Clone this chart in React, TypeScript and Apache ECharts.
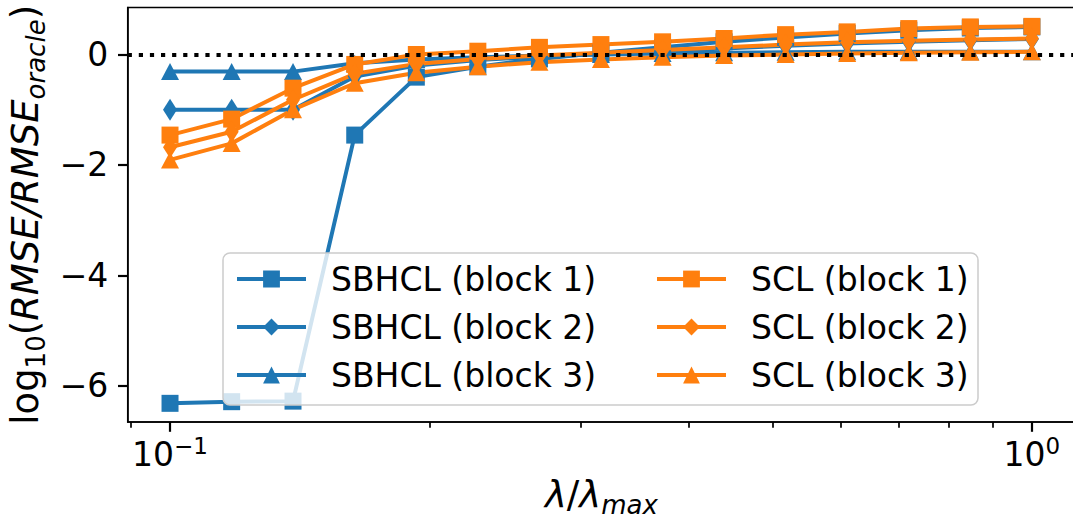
import React, { useEffect, useRef } from 'react';
import * as echarts from 'echarts';

// lambda / lambda_max values (log-spaced, 15 points)
const lambdaValues = [0.1, 0.1179, 0.1389, 0.1638, 0.1931, 0.2276, 0.2683, 0.3162, 0.3728, 0.4394, 0.5179, 0.6105, 0.7197, 0.8483, 1.0];

const sbhclBlock1 = [-6.32, -6.29, -6.28, -1.46, -0.41, -0.22, -0.08, 0.03, 0.13, 0.23, 0.31, 0.38, 0.44, 0.48, 0.5];
const sbhclBlock2 = [-1.0, -1.0, -1.0, -0.4, -0.2, -0.1, -0.04, 0.01, 0.06, 0.11, 0.16, 0.2, 0.23, 0.26, 0.28];
const sbhclBlock3 = [-0.31, -0.31, -0.31, -0.16, -0.09, -0.05, -0.02, 0.0, 0.02, 0.03, 0.04, 0.05, 0.05, 0.05, 0.05];
const sclBlock1 = [-1.46, -1.17, -0.61, -0.18, 0.0, 0.06, 0.13, 0.18, 0.23, 0.29, 0.36, 0.41, 0.47, 0.5, 0.51];
const sclBlock2 = [-1.68, -1.4, -0.82, -0.35, -0.17, -0.08, -0.02, 0.03, 0.08, 0.13, 0.18, 0.22, 0.25, 0.27, 0.29];
const sclBlock3 = [-1.91, -1.61, -1.0, -0.52, -0.33, -0.22, -0.14, -0.09, -0.05, -0.02, 0.0, 0.02, 0.03, 0.04, 0.05];

const seriesNames = ['SBHCL (block 1)', 'SBHCL (block 2)', 'SBHCL (block 3)', 'SCL (block 1)', 'SCL (block 2)', 'SCL (block 3)'];

// axis ticks
const xMajorTickLambdas = [0.1, 1];
const xMinorTickLambdas = [0.09, 0.2, 0.3, 0.4, 0.5, 0.6, 0.7, 0.8, 0.9];
const yTickValues = [-6, -4, -2, 0];
const xLimLog = [-1.0491, 0.05];
const yLim = [-6.66, 0.85];

const BLUE = '#1f77b4';
const ORANGE = '#ff7f0e';
const FONT = 'DejaVu Sans';

export default function App() {
  const ref = useRef<HTMLDivElement>(null);

  useEffect(() => {
    if (!ref.current) return;
    const chart = echarts.init(ref.current, null, { renderer: 'svg' });

    const allValues = [sbhclBlock1, sbhclBlock2, sbhclBlock3, sclBlock1, sclBlock2, sclBlock3];
    const symbols = ['rect', 'diamond', 'triangle', 'rect', 'diamond', 'triangle'];
    const sizes: any[] = [17, [14, 22], [18, 17], 17, [14, 22], [18, 17]];
    const colors = [BLUE, BLUE, BLUE, ORANGE, ORANGE, ORANGE];

    const series: any[] = allValues.map((vals, i) => ({
      name: seriesNames[i],
      type: 'line',
      data: vals.map((v, k) => [Math.log10(lambdaValues[k]), v]),
      symbol: symbols[i],
      symbolSize: sizes[i],
      showAllSymbol: true,
      color: colors[i],
      lineStyle: { width: 4, color: colors[i] },
      itemStyle: { color: colors[i] },
      z: 2,
      silent: true,
    }));

    series.push({
      name: 'zero',
      type: 'line',
      data: [],
      z: 3,
      silent: true,
      markLine: {
        silent: true,
        symbol: 'none',
        label: { show: false },
        lineStyle: { color: '#000', width: 4.2, type: [4.2, 6.9], cap: 'butt' },
        data: [{ yAxis: 0 }],
        animation: false,
      },
    });

    const legendCommon = {
      orient: 'vertical',
      padding: 0,
      itemWidth: 69,
      itemHeight: 21,
      itemGap: 15,
      selectedMode: false,
      lineStyle: { width: 4 },
      textStyle: { fontSize: 33, fontFamily: FONT, color: '#000', padding: [0, 0, 0, 20] },
      z: 5,
    };

    const option: any = {
      animation: false,
      textStyle: { fontFamily: FONT },
      grid: {
        left: 127.7,
        top: 7.6,
        width: 947.3,
        height: 414.5,
        show: true,
        borderColor: '#000',
        borderWidth: 1.5,
        backgroundColor: 'transparent',
        containLabel: false,
        outerBoundsMode: 'none',
      },
      xAxis: [
        {
          type: 'value',
          min: xLimLog[0],
          max: xLimLog[1],
          position: 'bottom',
          axisLine: { show: true, onZero: false, lineStyle: { color: '#000', width: 1.5 } },
          splitLine: { show: false },
          axisTick: {
            show: true,
            customValues: xMajorTickLambdas.map((l) => Math.log10(l)),
            length: 9.7,
            lineStyle: { color: '#000', width: 2.2 },
          },
          axisLabel: {
            show: true,
            customValues: xMajorTickLambdas.map((l) => Math.log10(l)),
            margin: 16,
            formatter: (v: number) => '{b|10}{s|' + (Math.round(v) < 0 ? '−' + Math.abs(Math.round(v)) : String(Math.round(v))) + '}',
            rich: {
              b: { fontSize: 33, fontFamily: FONT, color: '#000', verticalAlign: 'bottom', lineHeight: 33 },
              s: { fontSize: 23, fontFamily: FONT, color: '#000', verticalAlign: 'bottom', lineHeight: 23, padding: [0, 0, 14, 0] },
            },
          },
          name: '{i|λ}{n|/}{i|λ}{sub|max}',
          nameLocation: 'middle',
          nameGap: 54,
          nameTextStyle: {
            rich: {
              i: { fontSize: 37, fontStyle: 'italic', fontFamily: FONT, color: '#000', verticalAlign: 'top', lineHeight: 37 },
              n: { fontSize: 37, fontFamily: FONT, color: '#000', verticalAlign: 'top', lineHeight: 37 },
              sub: { fontSize: 26, fontStyle: 'italic', fontFamily: FONT, color: '#000', verticalAlign: 'top', lineHeight: 26, padding: [16, 0, 0, 0] },
            },
          },
        },
        {
          type: 'value',
          min: xLimLog[0],
          max: xLimLog[1],
          position: 'bottom',
          offset: 0,
          axisLine: { show: false, onZero: false },
          splitLine: { show: false },
          axisLabel: { show: false },
          axisTick: {
            show: true,
            customValues: xMinorTickLambdas.map((l) => Math.log10(l)),
            length: 5.6,
            lineStyle: { color: '#000', width: 1.7 },
          },
        },
      ],
      yAxis: {
        type: 'value',
        min: yLim[0],
        max: yLim[1],
        axisLine: { show: true, onZero: false, lineStyle: { color: '#000', width: 1.5 } },
        splitLine: { show: false },
        axisTick: {
          show: true,
          customValues: yTickValues,
          length: 9.7,
          lineStyle: { color: '#000', width: 2.2 },
        },
        axisLabel: {
          show: true,
          customValues: yTickValues,
          margin: 19.4,
          fontSize: 33,
          fontFamily: FONT,
          color: '#000',
          formatter: (v: number) => (v < 0 ? '−' + Math.abs(v) : String(v)),
        },
        name: '{n|log}{sub|10}{n|(}{i|RMSE/RMSE}{isub|oracle}{n|)}',
        nameLocation: 'middle',
        nameRotate: 90,
        nameGap: 78,
        nameTextStyle: {
          rich: {
            n: { fontSize: 37, fontFamily: FONT, color: '#000', verticalAlign: 'top', lineHeight: 37 },
            i: { fontSize: 37, fontStyle: 'italic', fontFamily: FONT, color: '#000', verticalAlign: 'top', lineHeight: 37 },
            sub: { fontSize: 26, fontFamily: FONT, color: '#000', verticalAlign: 'top', lineHeight: 26, padding: [16, 0, 0, 0] },
            isub: { fontSize: 26, fontStyle: 'italic', fontFamily: FONT, color: '#000', verticalAlign: 'top', lineHeight: 26, padding: [16, 0, 0, 0] },
          },
        },
      },
      legend: [
        { ...legendCommon, data: seriesNames.slice(0, 3), left: 235, top: 262.5 },
        { ...legendCommon, data: seriesNames.slice(3, 6), left: 655, top: 262.5 },
      ],
      graphic: [
        {
          type: 'rect',
          z: 3,
          shape: { x: 223, y: 253, width: 755, height: 152, r: 7 },
          style: { fill: 'rgba(255,255,255,0.8)', stroke: '#cccccc', lineWidth: 1.5 },
          silent: true,
        },
      ],
      series,
    };

    chart.setOption(option);
    return () => chart.dispose();
  }, []);

  return (
    <div
      ref={ref}
      style={{ position: 'fixed', left: 0, top: 0, width: 1073, height: 527, background: '#fff' }}
    />
  );
}
